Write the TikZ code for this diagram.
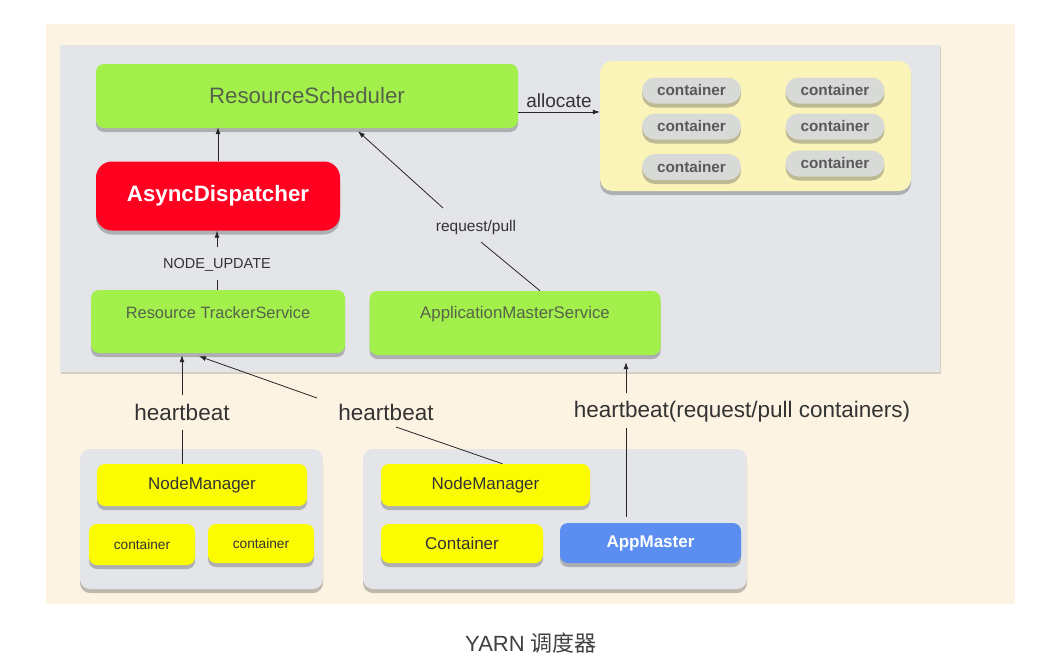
\documentclass[tikz,border=0pt]{standalone}
\usepackage{fontspec}
\setmainfont{Liberation Sans}
\newfontfamily\cjk{Noto Sans CJK SC}
\usetikzlibrary{shadows,arrows.meta}
\definecolor{cream}{HTML}{FDF3E3}
\definecolor{panelgray}{HTML}{E4E5E9}
\definecolor{boxgreen}{HTML}{A3F04D}
\definecolor{boxred}{HTML}{FF0021}
\definecolor{lightyel}{HTML}{FBF4B8}
\definecolor{pillgray}{HTML}{D7DAD7}
\definecolor{boxyel}{HTML}{FCFC00}
\definecolor{boxblue}{HTML}{5B8EF0}
\definecolor{greentext}{HTML}{56634A}
\definecolor{labeltext}{HTML}{333333}
\begin{document}
\begin{tikzpicture}[x=1pt,y=-1pt,
  shad/.style={drop shadow={shadow xshift=0pt,shadow yshift=-4pt,opacity=0.35,fill=black!70}},
  greenbox/.style={shad,fill=boxgreen,rounded corners=8pt,inner sep=0pt,text=greentext},
  yelbox/.style={shad,fill=boxyel,rounded corners=8pt,inner sep=0pt,text=labeltext},
  pill/.style={shad,fill=pillgray,rounded corners=13pt,minimum width=99pt,minimum height=26pt,inner sep=0pt,text=black!65,font=\fontsize{15.3}{17}\selectfont\bfseries},
  graybox/.style={shad,fill=panelgray,rounded corners=10pt,inner sep=0pt},
  lbl/.style={text=labeltext,inner sep=2pt},
  arr/.style={-{Latex[length=7pt,width=5pt]},black!85,line width=0.8pt},
  ln/.style={black!85,line width=0.8pt}]
\useasboundingbox (0,0) rectangle (1055,659);
\fill[white] (0,0) rectangle (1055,659);
\fill[cream] (46,24) rectangle (1015,604);
\fill[panelgray,drop shadow={shadow xshift=1pt,shadow yshift=-2pt,opacity=0.25,fill=black!60}] (60,45) rectangle (940,372);

% top area
\node[greenbox,minimum width=422pt,minimum height=64pt,font=\fontsize{22.3}{26}\selectfont] (rs) at (307,96) {ResourceScheduler};
\node[shad,fill=boxred,rounded corners=16pt,minimum width=244pt,minimum height=69pt,inner sep=0pt,text=white,font=\fontsize{22.3}{26}\selectfont\bfseries] (ad) at (218,196) {AsyncDispatcher};
\node[shad,fill=lightyel,rounded corners=12pt,minimum width=311pt,minimum height=130pt,inner sep=0pt] (cp) at (755.5,126) {};
\node[pill] (p1) at (691.5,90.5) {container};
\node[pill] (p2) at (691.5,126.5) {container};
\node[pill] (p3) at (691.5,167) {container};
\node[pill] (p4) at (835,90.5) {container};
\node[pill] (p5) at (835,126.5) {container};
\node[pill] (p6) at (835,163.5) {container};

\node[greenbox,minimum width=254pt,minimum height=63pt,label={[yshift=8.5pt,text=greentext,font=\fontsize{16.4}{18}\selectfont]center:Resource TrackerService}] (rts) at (218,321.5) {};
\node[greenbox,minimum width=291pt,minimum height=64pt,label={[yshift=9pt,text=greentext,font=\fontsize{16.8}{19}\selectfont]center:ApplicationMasterService}] (ams) at (515,323) {};

% bottom area
\node[graybox,minimum width=243pt,minimum height=140pt] (b1) at (201.5,519) {};
\node[graybox,minimum width=384pt,minimum height=140pt] (b2) at (555,519) {};
\node[yelbox,minimum width=210pt,minimum height=42pt,font=\fontsize{17}{20}\selectfont] (nm1) at (202,485) {NodeManager};
\node[yelbox,minimum width=106pt,minimum height=41pt,font=\fontsize{13.7}{16}\selectfont] (c1) at (142,544.5) {container};
\node[yelbox,minimum width=106pt,minimum height=39pt,font=\fontsize{13.7}{16}\selectfont] (c2) at (261,543.5) {container};
\node[yelbox,minimum width=209pt,minimum height=42pt,font=\fontsize{17}{20}\selectfont] (nm2) at (485.5,485) {NodeManager};
\node[yelbox,minimum width=162pt,minimum height=39pt,font=\fontsize{17}{20}\selectfont] (cont) at (462,543.5) {Container};
\node[shad,fill=boxblue,rounded corners=8pt,minimum width=181pt,minimum height=40pt,inner sep=0pt,text=white,font=\fontsize{17}{20}\selectfont\bfseries] (am) at (650.5,543) {AppMaster};

% labels
\node[lbl,font=\fontsize{19}{22}\selectfont] (alloc) at (559,101) {allocate};
\node[lbl,font=\fontsize{15.5}{18}\selectfont] (rp) at (476,227) {request/pull};
\node[lbl,font=\fontsize{14.5}{17}\selectfont] (nu) at (217,265) {NODE\_UPDATE};
\node[lbl,font=\fontsize{22.5}{26}\selectfont] (hb1) at (182,412) {heartbeat};
\node[lbl,font=\fontsize{22.5}{26}\selectfont] (hb2) at (386,412) {heartbeat};
\node[lbl,font=\fontsize{22.5}{26}\selectfont] (hb3) at (742,412) {heartbeat(request/pull containers)};
\node[text=black!75,font=\fontsize{22}{26}\selectfont] (cap) at (531,643) {YARN {\cjk 调度器}};

% coordinates
\coordinate (nuB) at (217,280);
\coordinate (nuT) at (217,247);
\coordinate (rpB) at (481,242);
\coordinate (rpT) at (443,208);
\coordinate (h1T) at (182,395);
\coordinate (h1B) at (182,430);
\coordinate (h2T) at (317,398);
\coordinate (h2B) at (396,427);
\coordinate (h3T) at (626,393);
\coordinate (h3B) at (626,428);

% connectors
\draw[arr] (ad.north) -- (ad.north |- rs.south) [shorten >=-1pt];
\draw[arr] ([yshift=-16pt]rs.east) -- ([yshift=-16pt]rs.east -| cp.west);
\draw[ln] (rts.north -| nuB) -- (nuB);
\draw[arr] (nuT) -- (nuT |- ad.south);
\draw[ln] ([xshift=25pt]ams.north) -- (rpB);
\draw[arr] (rpT) -- ([xshift=51pt,yshift=-3pt]rs.south);
\draw[arr] (h1T) -- ([yshift=-2pt]h1T |- rts.south);
\draw[ln] (h1B) -- (h1B |- nm1.north);
\draw[arr] (h2T) -- ([xshift=-19pt,yshift=-3pt]rts.south);
\draw[ln] (h2B) -- ([xshift=17pt]nm2.north);
\draw[arr] (h3T) -- ([yshift=-7pt]h3T |- ams.south);
\draw[ln] (h3B) -- ([yshift=6pt]h3B |- am.north);
\end{tikzpicture}
\end{document}
